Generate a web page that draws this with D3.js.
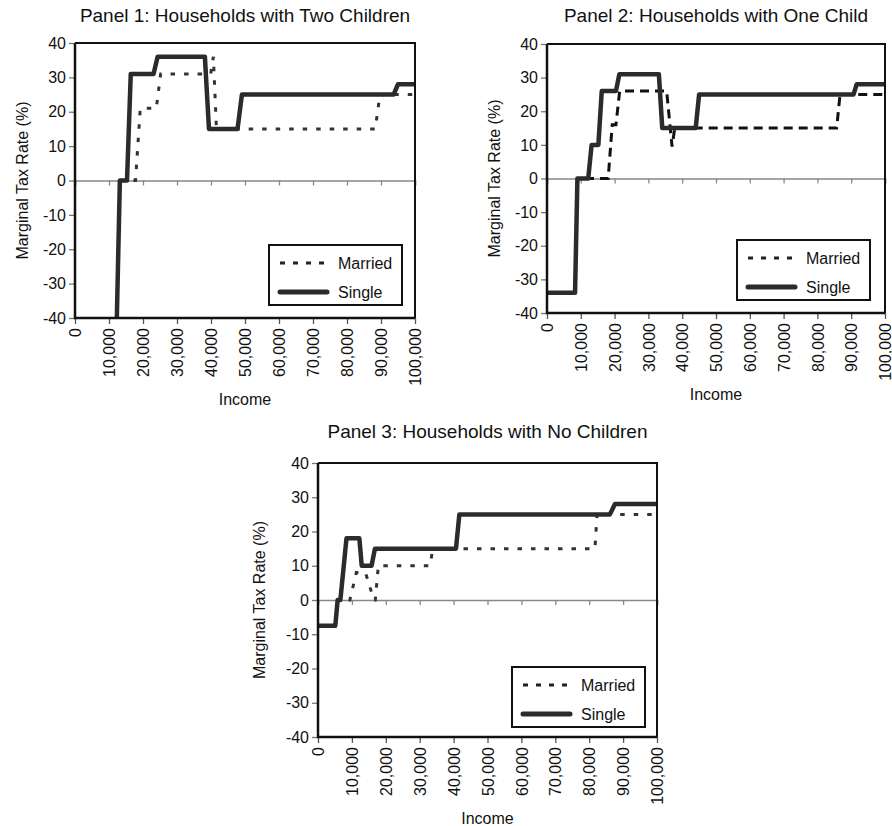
<!DOCTYPE html>
<html>
<head>
<meta charset="utf-8">
<script src="https://cdn.jsdelivr.net/npm/d3@7"></script>
<style>
  body { margin: 0; background: #fff; }
  text { font-family: "Liberation Sans", Arial, Helvetica, sans-serif; fill: #111; }
</style>
</head>
<body>
<script>
// chart size
var svgWidth = 892;
var svgHeight = 826;

// tick values shared by all panels
var yTicks = [-40, -30, -20, -10, 0, 10, 20, 30, 40];
var xTicks = [0, 10000, 20000, 30000, 40000, 50000, 60000, 70000, 80000, 90000, 100000];
var seriesNames = ["Married", "Single"];
var panelTitles = [
  "Panel 1: Households with Two Children",
  "Panel 2: Households with One Child",
  "Panel 3: Households with No Children"
];

// [income, marginal tax rate %]
var p1Single = [[12300, -40], [13200, 0], [15300, 0], [16400, 31], [23100, 31], [24300, 36],
  [38200, 36], [39400, 15], [47800, 15], [49100, 25], [93700, 25], [95000, 28], [100000, 28]];
var p1Married = [[13200, 0], [17800, 0], [19200, 21], [23900, 21], [25200, 31], [39900, 31],
  [40700, 36], [41600, 15], [88300, 15], [89700, 25], [100000, 25]];

var p2Single = [[0, -34], [8300, -34], [9000, 0], [12200, 0], [13200, 10], [15200, 10], [16200, 26],
  [20400, 26], [21400, 31], [33100, 31], [34100, 15], [44000, 15], [45000, 25], [90700, 25],
  [91600, 28], [100000, 28]];
var p2Married = [[0, -34], [8300, -34], [9000, 0], [18100, 0], [19300, 16], [20400, 16], [21500, 26],
  [35400, 26], [37000, 9.5], [37800, 15], [85700, 15], [86700, 25], [100000, 25]];

var p3Single = [[0, -7.5], [5100, -7.5], [5800, 0], [6600, 0], [8400, 18], [12200, 18], [12900, 10],
  [15800, 10], [16800, 15], [40700, 15], [41700, 25], [86100, 25], [87600, 28], [100000, 28]];
var p3Married = [[0, -7.5], [5100, -7.5], [5800, 0], [9400, 0], [11300, 8], [14000, 8], [16500, 0],
  [16900, 0], [17800, 10], [33000, 10], [33900, 15], [81700, 15], [82300, 25], [100000, 25]];

var panels = [
  { title: panelTitles[0], single: p1Single, married: p1Married,
    left: 75, right: 415, top: 43, bottom: 318, titleY: 22, labelGap: 53,
    marriedColor: "#333", marriedDash: "4.5,9", legend: [269, 245] },
  { title: panelTitles[1], single: p2Single, married: p2Married,
    left: 547, right: 885, top: 44, bottom: 313, titleY: 22, labelGap: 53,
    marriedColor: "#111", marriedDash: "9,6", legend: [737, 240] },
  { title: panelTitles[2], single: p3Single, married: p3Married,
    left: 318, right: 657, top: 463, bottom: 737, titleY: 438, labelGap: 59,
    marriedColor: "#333", marriedDash: "4.5,9", legend: [512, 667] }
];

var svg = d3.select("body")
  .append("svg")
  .attr("width", svgWidth)
  .attr("height", svgHeight);

var fmt = d3.format(",");

panels.forEach(function(p, i) {
  var x = d3.scaleLinear().domain([0, 100000]).range([p.left, p.right]);
  var y = d3.scaleLinear().domain([-40, 40]).range([p.bottom, p.top]);
  var g = svg.append("g");

  // title
  g.append("text")
    .attr("x", (p.left + p.right) / 2)
    .attr("y", p.titleY)
    .attr("text-anchor", "middle")
    .style("font-size", "19px")
    .text(p.title);

  // clip for the series
  g.append("clipPath").attr("id", "clip" + i)
    .append("rect")
    .attr("x", p.left).attr("y", p.top)
    .attr("width", p.right - p.left).attr("height", p.bottom - p.top);

  // y axis (plain hyphen for negatives, like the original)
  var leftAxis = d3.axisLeft(y).tickValues(yTicks).tickSize(6).tickPadding(3)
    .tickFormat(function(d) { return String(d); });
  var ya = g.append("g")
    .attr("transform", `translate(${p.left},0)`)
    .call(leftAxis);
  ya.select(".domain").remove();
  ya.selectAll(".tick line").attr("stroke", "#777").attr("stroke-width", 1.3);
  ya.selectAll("text").style("font-size", "16px").attr("fill", "#111");

  // zero line with ticks
  var zeroAxis = d3.axisBottom(x).tickValues(xTicks).tickSize(5).tickFormat("");
  var za = g.append("g")
    .attr("transform", `translate(0,${y(0)})`)
    .call(zeroAxis);
  za.select(".domain").attr("stroke", "#888").attr("stroke-width", 1.6);
  za.selectAll(".tick line").attr("stroke", "#888").attr("stroke-width", 1.3);

  // bottom axis with rotated labels
  var bottomAxis = d3.axisBottom(x).tickValues(xTicks).tickSize(6).tickFormat(fmt);
  var xa = g.append("g")
    .attr("transform", `translate(0,${p.bottom})`)
    .call(bottomAxis);
  xa.select(".domain").remove();
  xa.selectAll(".tick line").attr("stroke", "#555").attr("stroke-width", 1.3);
  xa.selectAll("text")
    .style("font-size", "16px")
    .attr("fill", "#111")
    .attr("text-anchor", "end")
    .attr("transform", "rotate(-90)")
    .attr("x", -10)
    .attr("y", 0)
    .attr("dy", "0.35em");

  // series
  var line = d3.line().x(function(d) { return x(d[0]); }).y(function(d) { return y(d[1]); });
  var series = g.append("g").attr("clip-path", `url(#clip${i})`);
  series.append("path")
    .datum(p.married)
    .attr("d", line)
    .attr("fill", "none")
    .attr("stroke", p.marriedColor)
    .attr("stroke-width", 3)
    .attr("stroke-dasharray", p.marriedDash);
  series.append("path")
    .datum(p.single)
    .attr("d", line)
    .attr("fill", "none")
    .attr("stroke", "#2b2b2b")
    .attr("stroke-width", 4.5)
    .attr("stroke-linejoin", "round");

  // frame
  g.append("path")
    .attr("d", `M${p.left},${p.top}H${p.right}V${p.bottom}`)
    .attr("fill", "none").attr("stroke", "#111").attr("stroke-width", 2);
  g.append("path")
    .attr("d", `M${p.left},${p.top}V${p.bottom}H${p.right}`)
    .attr("fill", "none").attr("stroke", "#111").attr("stroke-width", 2.5);

  // axis titles
  g.append("text")
    .attr("transform", `translate(${p.left - p.labelGap},${(p.top + p.bottom) / 2}) rotate(-90)`)
    .attr("text-anchor", "middle")
    .attr("dy", "0.35em")
    .style("font-size", "16px")
    .text("Marginal Tax Rate (%)");
  g.append("text")
    .attr("x", (p.left + p.right) / 2)
    .attr("y", p.bottom + 87)
    .attr("text-anchor", "middle")
    .style("font-size", "16px")
    .text("Income");

  // legend
  var lx = p.legend[0], ly = p.legend[1];
  var lg = g.append("g").attr("transform", `translate(${lx},${ly})`);
  lg.append("rect")
    .attr("width", 133).attr("height", 60)
    .attr("fill", "#fff").attr("stroke", "#111").attr("stroke-width", 2);
  seriesNames.forEach(function(name, k) {
    var ry = 18 + k * 29;
    lg.append("line")
      .attr("x1", 11).attr("x2", 58).attr("y1", ry).attr("y2", ry)
      .attr("stroke", k === 0 ? "#222" : "#2b2b2b")
      .attr("stroke-width", k === 0 ? 3 : 5)
      .attr("stroke-linecap", k === 0 ? "butt" : "round")
      .attr("stroke-dasharray", k === 0 ? "5,8" : null);
    lg.append("text")
      .attr("x", 69).attr("y", ry)
      .attr("dy", "0.35em")
      .style("font-size", "16px")
      .text(name);
  });
});
</script>
</body>
</html>
